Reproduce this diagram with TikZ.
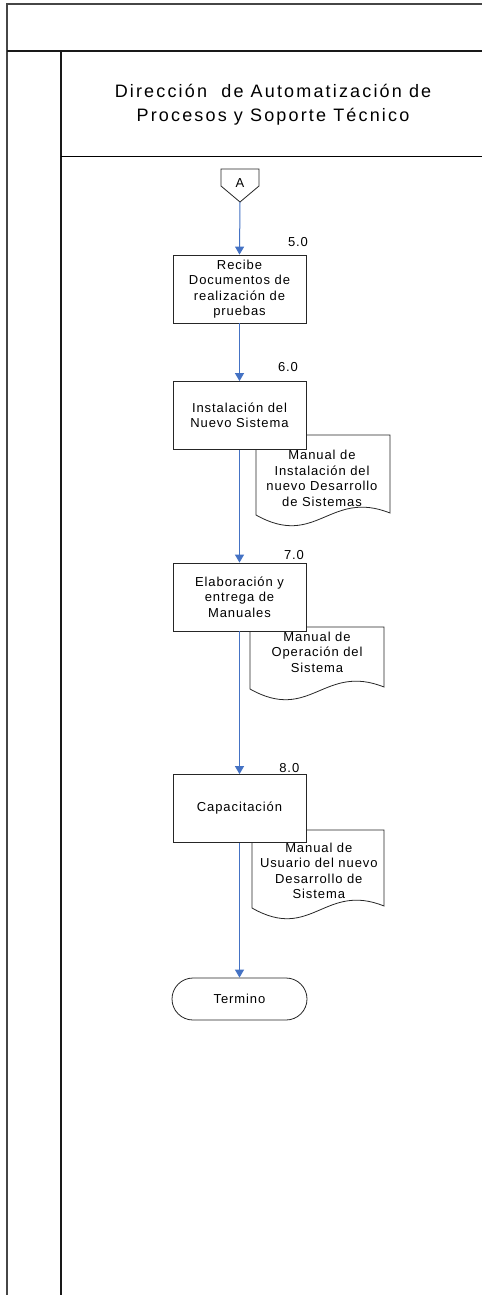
\documentclass[tikz,border=0pt]{standalone}
\usepackage{fontspec}
\setmainfont{Liberation Sans}
\newfontfamily\lanefont[LetterSpace=12]{Liberation Sans}
\newfontfamily\shapefont[LetterSpace=7]{Liberation Sans}
\usetikzlibrary{arrows.meta,shapes.misc}
\definecolor{flowblue}{RGB}{68,114,196}
\definecolor{framegray}{RGB}{70,70,70}

% document symbol with a wavy bottom edge: left, right, top, bottom-left
\newcommand{\docsymbol}[4]{%
  \draw[docshape] (#1,#3) -- (#2,#3) -- (#2,#4-2)
    .. controls ({#1+0.55*(#2-#1)},#4-26) and ({#1+0.45*(#2-#1)},#4+34) .. (#1,#4) -- cycle;}

\begin{document}
\begin{tikzpicture}[x=1pt,y=-1pt,
  shapetext/.style={font=\shapefont\fontsize{13}{15.5}\selectfont, align=center},
  proc/.style={shapetext, draw=black!85, fill=white, line width=0.8pt,
    minimum width=133pt, minimum height=68pt, inner sep=0pt},
  docshape/.style={draw=black!85, fill=white, line width=0.8pt},
  doctext/.style={shapetext, inner sep=0pt},
  steplabel/.style={font=\shapefont\fontsize{13}{15.5}\selectfont, anchor=base, inner sep=0pt},
  terminal/.style={shapetext, rounded rectangle, draw=black!85, fill=white, line width=0.8pt,
    minimum width=135pt, minimum height=42pt, inner sep=0pt},
  flow/.style={draw=flowblue, line width=1pt, -{Triangle[length=8pt,width=9pt]}},
  ]
\useasboundingbox (0,0) rectangle (482,1295);
\fill[white] (0,0) rectangle (482,1295);

% swimlane frame
\draw[framegray, line width=1.5pt] (7,1295) -- (7,4) -- (482,4);
\draw[black!90, line width=2pt] (7,51) -- (482,51);
\draw[black!90, line width=2pt] (61,51) -- (61,1295);
\draw[black, line width=1pt] (61,156) -- (482,156);

\node[font=\lanefont\fontsize{18}{24}\selectfont, align=center, inner sep=0pt]
  (lane) at (273,105) {Dirección\ \ de Automatización de\\Procesos y Soporte Técnico};

% off-page connector
\draw[docshape] (221,169) -- (259,169) -- (259,186) -- (240,202) -- (221,186) -- cycle;
\node[shapetext, inner sep=0pt] (conA) at (240,183) {A};
\coordinate (Atip) at (240,202);

% documents (drawn below the process boxes)
\docsymbol{256}{390}{435}{515}
\node[doctext] (d6) at (322,478.2) {Manual de\\Instalación del\\nuevo Desarrollo\\de Sistemas};
\docsymbol{250}{384}{627}{689}
\node[doctext] (d7) at (317,652.3) {Manual de\\Operación del\\Sistema};
\docsymbol{252}{384}{830}{908}
\node[doctext] (d8) at (318.8,870.7) {Manual de\\Usuario del nuevo\\Desarrollo de\\Sistema};

% process steps
\node[proc] (b5) at (239.5,289) {Recibe\\Documentos de\\realización de\\pruebas};
\node[proc] (b6) at (239.5,415.5) {Instalación del\\Nuevo Sistema};
\node[proc] (b7) at (239.5,597) {Elaboración y\\entrega de\\Manuales};
\node[proc] (b8) at (239.5,808.5) {Capacitación};
\node[terminal] (fin) at (239.5,999) {Termino};

\node[steplabel] (n5) at (298,246.6) {5.0};
\node[steplabel] (n6) at (288,371) {6.0};
\node[steplabel] (n7) at (294,559) {7.0};
\node[steplabel] (n8) at (289.3,772.3) {8.0};

% flow
\draw[flow] (Atip) -- (b5.north);
\draw[flow] (b5.south) -- (b6.north);
\draw[flow] (b6.south) -- (b7.north);
\draw[flow] (b7.south) -- (b8.north);
\draw[flow] (b8.south) -- (fin.north);
\end{tikzpicture}
\end{document}
